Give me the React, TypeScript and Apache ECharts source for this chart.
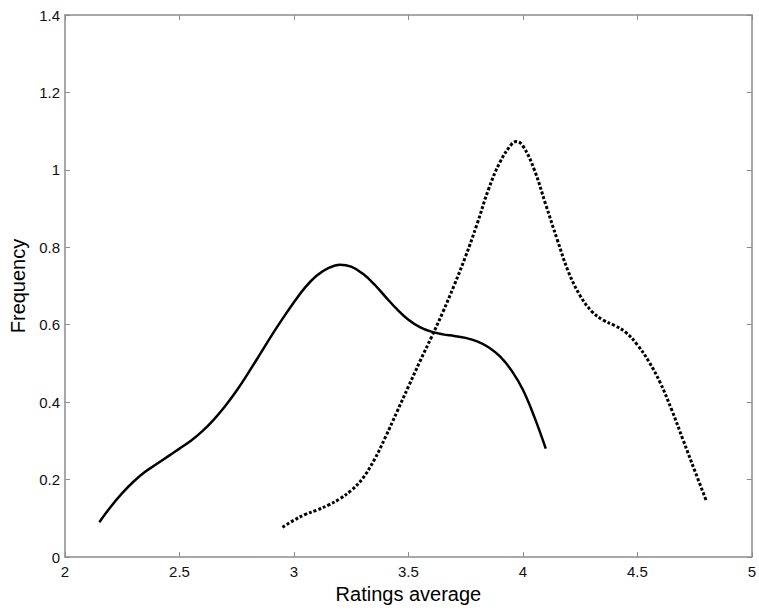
import React, { useEffect, useRef } from "react";
import * as echarts from "echarts";

const solidX = [2.15, 2.2, 2.25, 2.3, 2.35, 2.4, 2.45, 2.5, 2.55, 2.6, 2.65, 2.7, 2.75, 2.8, 2.85, 2.9, 2.95, 3.0, 3.05, 3.1, 3.15, 3.2, 3.25, 3.3, 3.35, 3.4, 3.45, 3.5, 3.55, 3.6, 3.65, 3.7, 3.75, 3.8, 3.85, 3.9, 3.95, 4.0, 4.05, 4.1];
const solidY = [0.09, 0.13, 0.165, 0.195, 0.22, 0.24, 0.26, 0.28, 0.3, 0.325, 0.355, 0.39, 0.43, 0.475, 0.522, 0.57, 0.615, 0.658, 0.697, 0.727, 0.746, 0.755, 0.75, 0.732, 0.705, 0.672, 0.64, 0.613, 0.594, 0.582, 0.575, 0.571, 0.566, 0.557, 0.542, 0.518, 0.482, 0.432, 0.362, 0.28];

const dashedX = [2.95, 3.0, 3.05, 3.1, 3.15, 3.2, 3.25, 3.3, 3.35, 3.4, 3.45, 3.5, 3.55, 3.6, 3.65, 3.7, 3.75, 3.8, 3.85, 3.9, 3.95, 3.97, 4.0, 4.05, 4.1, 4.15, 4.2, 4.25, 4.3, 4.35, 4.4, 4.45, 4.5, 4.55, 4.6, 4.65, 4.7, 4.75, 4.8];
const dashedY = [0.077, 0.095, 0.11, 0.121, 0.134, 0.15, 0.172, 0.203, 0.25, 0.31, 0.375, 0.44, 0.505, 0.567, 0.632, 0.702, 0.777, 0.86, 0.95, 1.02, 1.066, 1.073, 1.062, 1.0, 0.91, 0.82, 0.735, 0.675, 0.635, 0.612, 0.598, 0.58, 0.548, 0.505, 0.45, 0.38, 0.302, 0.224, 0.147];

const xTicks = ["2", "2.5", "3", "3.5", "4", "4.5", "5"];
const yTicks = ["0", "0.2", "0.4", "0.6", "0.8", "1", "1.2", "1.4"];

const FONT = "Liberation Sans, Arial, sans-serif";
const AXIS_GRAY = "#8c8c8c";

export default function App() {
  const ref = useRef<HTMLDivElement>(null);
  useEffect(() => {
    document.body.style.margin = "0";
    const chart = echarts.init(ref.current!, null, { renderer: "svg" });
    const tick = { show: true, inside: true, length: 5, lineStyle: { color: AXIS_GRAY, width: 1 } };
    const line = { show: true, onZero: false, lineStyle: { color: AXIS_GRAY, width: 1.5 } };
    chart.setOption({
      animation: false,
      grid: { left: 65, right: 5, top: 15, bottom: 53, containLabel: false },
      xAxis: [
        {
          type: "value", min: 2, max: 5, interval: 0.5, position: "bottom",
          axisLine: line, axisTick: tick, splitLine: { show: false },
          axisLabel: { color: "#111", fontSize: 15, fontFamily: FONT, margin: 7, formatter: (v: number) => xTicks[Math.round((v - 2) / 0.5)] ?? String(v) },
          name: "Ratings average", nameLocation: "middle", nameGap: 27,
          nameTextStyle: { color: "#000", fontSize: 20, fontFamily: FONT },
        },
        {
          type: "value", min: 2, max: 5, interval: 0.5, position: "top",
          axisLine: line, axisTick: tick, axisLabel: { show: false }, splitLine: { show: false },
        },
      ],
      yAxis: [
        {
          type: "value", min: 0, max: 1.4, interval: 0.2, position: "left",
          axisLine: line, axisTick: tick, splitLine: { show: false },
          axisLabel: { color: "#111", fontSize: 15, fontFamily: FONT, margin: 5, formatter: (v: number) => yTicks[Math.round(v / 0.2)] ?? String(v) },
          name: "Frequency", nameLocation: "middle", nameGap: 33, nameRotate: 90,
          nameTextStyle: { color: "#000", fontSize: 20, fontFamily: FONT },
        },
        {
          type: "value", min: 0, max: 1.4, interval: 0.2, position: "right",
          axisLine: line, axisTick: tick, axisLabel: { show: false }, splitLine: { show: false },
        },
      ],
      series: [
        {
          type: "line", smooth: 0.4, showSymbol: false, symbol: "none",
          data: solidX.map((x, i) => [x, solidY[i]]),
          lineStyle: { color: "#000", width: 2.5, type: "solid" },
        },
        {
          type: "line", smooth: 0.4, showSymbol: false, symbol: "none",
          data: dashedX.map((x, i) => [x, dashedY[i]]),
          lineStyle: { color: "#000", width: 3, type: [3, 2], cap: "butt" },
        },
      ],
    });
    return () => chart.dispose();
  }, []);
  return <div ref={ref} style={{ width: 759, height: 610 }} />;
}
